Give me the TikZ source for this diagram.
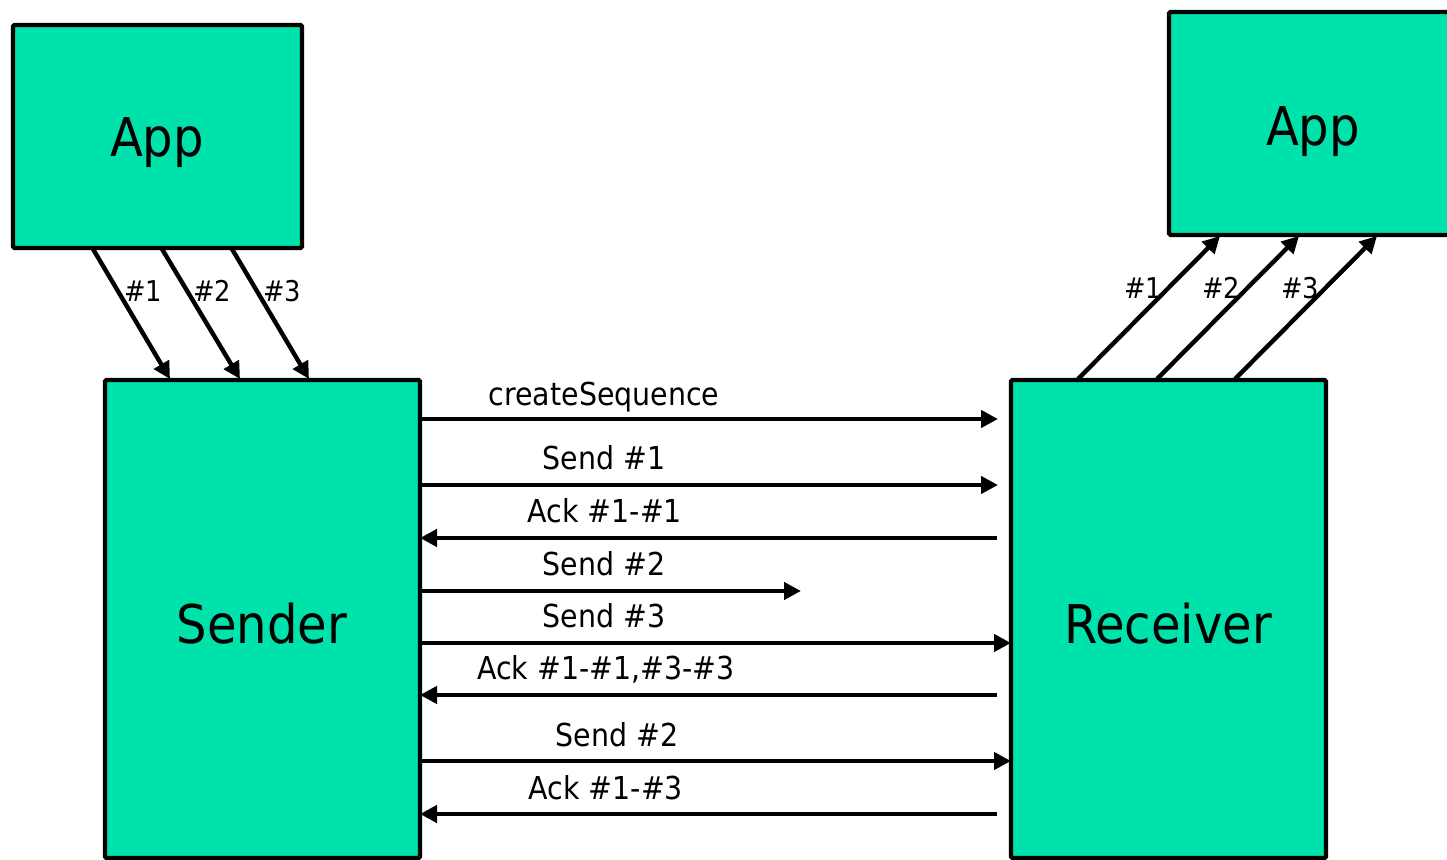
\documentclass[tikz,border=0pt]{standalone}
\usepackage{fontspec}
\setmainfont{DejaVu Sans Condensed}
\usetikzlibrary{arrows.meta,calc}
\definecolor{boxgreen}{RGB}{0,226,172}
\begin{document}
\begin{tikzpicture}[x=0.5pt,y=-0.5pt,
  box/.style={draw=black,line width=2.2pt,fill=boxgreen,rounded corners=0.8pt,inner sep=0pt,outer sep=0pt,anchor=north west},
  bigtext/.style={font=\fontsize{26.7}{30}\selectfont},
  lab/.style={font=\fontsize{15.8}{18}\selectfont,inner sep=0pt},
  hlab/.style={font=\fontsize{14.3}{17}\selectfont,inner sep=0pt},
  arr/.style={line width=2.2pt,-{Triangle[length=8.5pt,width=8.5pt]}}]
\useasboundingbox (0,0) rectangle (1447,860);
\clip (0,0) rectangle (1447,860);
% boxes
\node[box,minimum width=144.5pt,minimum height=111.5pt] (A1) at (13,25) {};
\node[bigtext] (A1t) at (157,143) {App};
\node[box,minimum width=145pt,minimum height=111.5pt] (A2) at (1169,12) {};
\node[bigtext] (A2t) at (1313,132) {App};
\node[box,minimum width=157.5pt,minimum height=239pt] (S) at (105,380) {};
\node[bigtext] (St) at (262,624) {Sender};
\node[box,minimum width=157.5pt,minimum height=239pt] (R) at (1011,380) {};
\node[bigtext] (Rt) at (1168,624) {Receiver};
% left app -> sender
\coordinate (a1) at (93,249);
\coordinate (a2) at (162,249);
\coordinate (a3) at (232,249);
\coordinate (s1) at (170,379);
\coordinate (s2) at (240,379);
\coordinate (s3) at (309,379);
\draw[arr] (a1) -- (s1);
\draw[arr] (a2) -- (s2);
\draw[arr] (a3) -- (s3);
\node[hlab] (l1) at (143,291) {\#1};
\node[hlab] (l2) at (212,291) {\#2};
\node[hlab] (l3) at (282,291) {\#3};
% receiver -> right app
\coordinate (r1) at (1078,379);
\coordinate (r2) at (1157,379);
\coordinate (r3) at (1235,379);
\coordinate (b1) at (1220,236);
\coordinate (b2) at (1299,236);
\coordinate (b3) at (1377,236);
\draw[arr] (r1) -- (b1);
\draw[arr] (r2) -- (b2);
\draw[arr] (r3) -- (b3);
\node[hlab] (m1) at (1143,288) {\#1};
\node[hlab] (m2) at (1221,288) {\#2};
\node[hlab] (m3) at (1300,288) {\#3};
% messages
\coordinate (e1) at (998,419);
\coordinate (e2) at (998,485);
\coordinate (e3) at (997,538);
\coordinate (e4) at (801,591);
\coordinate (e5) at (997,643);
\coordinate (e6) at (997,695);
\coordinate (e7) at (997,761);
\coordinate (e8) at (997,814);
\draw[arr] (S.east |- e1) -- (e1);
\draw[arr] (S.east |- e2) -- (e2);
\draw[arr] (e3) -- (S.east |- e3);
\draw[arr] (S.east |- e4) -- (e4);
\draw[arr] (S.east |- e5) -- (R.west |- e5);
\draw[arr] (e6) -- (S.east |- e6);
\draw[arr] (S.east |- e7) -- (R.west |- e7);
\draw[arr] (e8) -- (S.east |- e8);
\node[lab] (t1) at (604,397) {createSequence};
\node[lab] (t2) at (604,458) {Send \#1};
\node[lab] (t3) at (605,511) {Ack \#1-\#1};
\node[lab] (t4) at (604,564) {Send \#2};
\node[lab] (t5) at (604,616) {Send \#3};
\node[lab] (t6) at (606,669) {Ack \#1-\#1,\#3-\#3};
\node[lab] (t7) at (617,735) {Send \#2};
\node[lab] (t8) at (606,788) {Ack \#1-\#3};
\end{tikzpicture}
\end{document}
